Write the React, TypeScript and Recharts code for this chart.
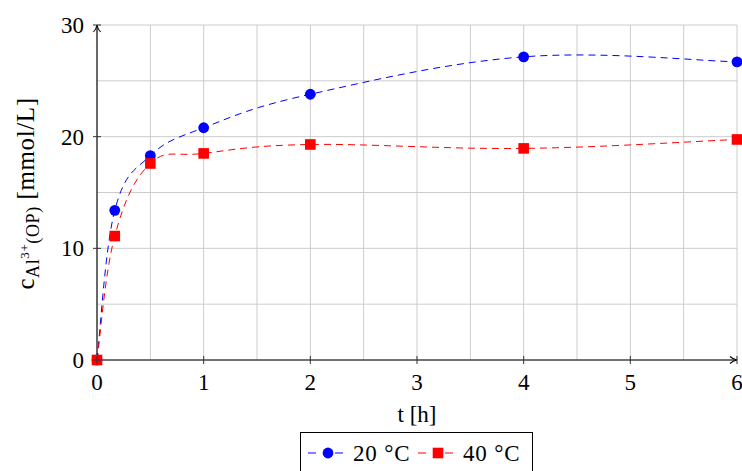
import { LineChart, Line, XAxis, YAxis, CartesianGrid } from "recharts";

// sampling times [h] and Al3+ concentration [mmol/L]
const hours = [0, 1 / 6, 0.5, 1, 2, 4, 6];
const c20 = [0, 13.4, 18.3, 20.8, 23.8, 27.15, 26.7];
const c40 = [0, 11.1, 17.6, 18.5, 19.3, 18.95, 19.75];

const xTicks = [0, 0.5, 1, 1.5, 2, 2.5, 3, 3.5, 4, 4.5, 5, 5.5, 6];
const yTicks = [0, 5, 10, 15, 20, 25, 30];
const xLabels = [0, 1, 2, 3, 4, 5, 6];
const yLabels = [0, 10, 20, 30];

const data = hours.map((t, i) => ({ t, c20: c20[i], c40: c40[i] }));

const font = "'Liberation Serif', serif";
const BLUE = "#0000ff";
const RED = "#ff0000";

// smooth curve like TikZ "smooth" (cardinal spline)
function tikzSmooth(context: any) {
  let xs: number[] = [];
  let ys: number[] = [];
  const K = 0.55 / 3;
  return {
    areaStart() {},
    areaEnd() {},
    lineStart() { xs = []; ys = []; },
    point(x: number, y: number) { xs.push(+x); ys.push(+y); },
    lineEnd() {
      const n = xs.length;
      if (!n) return;
      context.moveTo(xs[0], ys[0]);
      for (let i = 0; i < n - 1; i++) {
        const a = Math.max(i - 1, 0);
        const b = Math.min(i + 2, n - 1);
        const c1x = xs[i] + (xs[i + 1] - xs[a]) * K;
        const c1y = ys[i] + (ys[i + 1] - ys[a]) * K;
        const c2x = xs[i + 1] - (xs[b] - xs[i]) * K;
        const c2y = ys[i + 1] - (ys[b] - ys[i]) * K;
        context.bezierCurveTo(c1x, c1y, c2x, c2y, xs[i + 1], ys[i + 1]);
      }
    },
  };
}

const XTick = (props: any) => {
  const { x, y, payload } = props;
  if (!xLabels.includes(payload.value)) return <g />;
  return (
    <g>
      <line x1={x} x2={x} y1={y - 4} y2={y + 4} stroke="#333" strokeWidth={1} />
      <text x={x} y={y + 30} textAnchor="middle" fontFamily={font} fontSize={23} fill="#000">
        {payload.value}
      </text>
    </g>
  );
};

const YTick = (props: any) => {
  const { x, y, payload } = props;
  if (!yLabels.includes(payload.value)) return <g />;
  return (
    <g>
      <line x1={x - 4} x2={x + 4} y1={y} y2={y} stroke="#333" strokeWidth={1} />
      <text x={x - 13} y={y + 8} textAnchor="end" fontFamily={font} fontSize={23} fill="#000">
        {payload.value}
      </text>
    </g>
  );
};

const YLabel = (props: any) => {
  const vb = props.viewBox;
  const cx = 34;
  const cy = vb.y + vb.height / 2 + 1;
  return (
    <text
      x={cx}
      y={cy}
      transform={`rotate(-90, ${cx}, ${cy})`}
      textAnchor="middle"
      fontFamily={font}
      fontSize={25}
      letterSpacing={0.6}
      fill="#000"
    >
      <tspan>c</tspan>
      <tspan fontSize={18} dy={5}>Al</tspan>
      <tspan fontSize={13} dy={-10}>3+</tspan>
      <tspan fontSize={18} dy={10}>(OP)</tspan>
      <tspan fontSize={25} dy={-5}> [mmol/L]</tspan>
    </text>
  );
};

const XLabel = (props: any) => {
  const vb = props.viewBox;
  return (
    <text x={vb.x + vb.width / 2} y={422} textAnchor="middle" fontFamily={font} fontSize={23} fill="#000">
      t [h]
    </text>
  );
};

const SquareDot = (props: any) => {
  const { cx, cy } = props;
  if (cx == null || cy == null) return <g />;
  return <rect x={cx - 5.3} y={cy - 5.3} width={10.6} height={10.6} fill={RED} />;
};

const CircleDot = (props: any) => {
  const { cx, cy } = props;
  if (cx == null || cy == null) return <g />;
  return <circle cx={cx} cy={cy} r={5.4} fill={BLUE} />;
};

function LegendBox() {
  return (
    <svg width={236} height={50} style={{ position: "absolute", left: 300, top: 432 }}>
      <rect x={0.5} y={0.5} width={232} height={60} fill="#fff" stroke="#000" strokeWidth={1} />
      <line x1={8} x2={43} y1={21} y2={21} stroke={BLUE} strokeWidth={1} strokeDasharray="8 19" />
      <circle cx={28} cy={21} r={5.4} fill={BLUE} />
      <text x={53} y={29} fontFamily={font} fontSize={23} letterSpacing={0.8} fill="#000">20 °C</text>
      <line x1={118} x2={153} y1={21} y2={21} stroke={RED} strokeWidth={1} strokeDasharray="8 19" />
      <rect x={132.7} y={15.7} width={10.6} height={10.6} fill={RED} />
      <text x={163} y={29} fontFamily={font} fontSize={23} letterSpacing={0.8} fill="#000">40 °C</text>
    </svg>
  );
}

export default function App() {
  return (
    <div style={{ position: "absolute", left: 0, top: 0, width: 742, height: 471, background: "#fff", overflow: "hidden" }}>
      <svg width={0} height={0} style={{ position: "absolute" }}>
        <defs>
          <marker id="axArrow" viewBox="0 0 10 10" refX={9} refY={5} markerWidth={10} markerHeight={10}
            markerUnits="userSpaceOnUse" orient="auto-start-reverse">
            <path d="M2,1.5 Q5,4.2 9,5 Q5,5.8 2,8.5" fill="none" stroke="#000" strokeWidth={1.1} />
          </marker>
        </defs>
      </svg>
      <LineChart width={742} height={471} data={data} margin={{ top: 25, right: 5, left: 37, bottom: 81 }}>
        <CartesianGrid stroke="#cccccc" strokeWidth={1} />
        <XAxis
          dataKey="t"
          type="number"
          domain={[0, 6]}
          ticks={xTicks}
          interval={0}
          height={30}
          tickSize={0}
          tickMargin={0}
          tickLine={false}
          axisLine={{ stroke: "#000", strokeWidth: 1.1, markerEnd: "url(#axArrow)" } as any}
          tick={<XTick />}
          label={<XLabel />}
        />
        <YAxis
          type="number"
          domain={[0, 30]}
          ticks={yTicks}
          interval={0}
          width={60}
          tickSize={0}
          tickMargin={0}
          tickLine={false}
          axisLine={{ stroke: "#000", strokeWidth: 1.1, markerStart: "url(#axArrow)" } as any}
          tick={<YTick />}
          label={<YLabel />}
        />
        <Line
          dataKey="c20"
          type={tikzSmooth as any}
          stroke={BLUE}
          strokeWidth={1}
          strokeDasharray="7 5"
          dot={<CircleDot />}
          activeDot={false}
          isAnimationActive={false}
        />
        <Line
          dataKey="c40"
          type={tikzSmooth as any}
          stroke={RED}
          strokeWidth={1}
          strokeDasharray="7 5"
          dot={<SquareDot />}
          activeDot={false}
          isAnimationActive={false}
        />
      </LineChart>
      <LegendBox />
    </div>
  );
}
